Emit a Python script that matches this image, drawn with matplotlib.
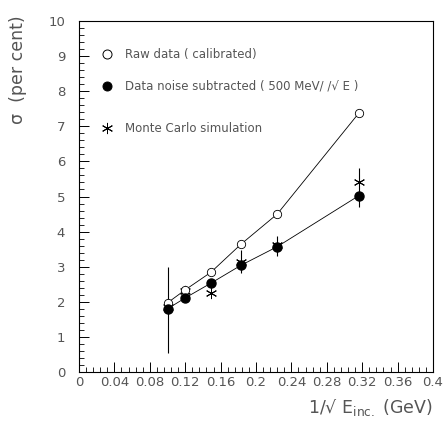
import matplotlib
matplotlib.use("Agg")
import matplotlib.pyplot as plt
from matplotlib.ticker import MultipleLocator

# 1/sqrt(E) for E = 100, 70, 45, 30, 20, 10 GeV
inv_sqrt_e = [0.100, 0.120, 0.149, 0.183, 0.224, 0.316]
raw_sigma = [1.97, 2.34, 2.84, 3.64, 4.50, 7.37]
sub_sigma = [1.80, 2.11, 2.53, 3.04, 3.57, 5.02]
sub_err_lo = [1.25, 0.12, 0.12, 0.23, 0.27, 0.33]
sub_err_hi = [1.20, 0.12, 0.12, 0.43, 0.30, 0.78]
mc_sigma = [1.85, 2.30, 2.26, 3.14, 3.62, 5.42]
x_ticks = [0, 0.04, 0.08, 0.12, 0.16, 0.2, 0.24, 0.28, 0.32, 0.36, 0.4]
x_labels = ['0', '0.04', '0.08', '0.12', '0.16', '0.2', '0.24', '0.28', '0.32', '0.36', '0.4']

txt = "#555555"
plt.rcParams['font.family'] = ['DejaVu Sans']

fig = plt.figure(figsize=(4.45, 4.21), dpi=100)
ax = fig.add_axes([79/445, 49/421, 354/445, 351/421])

ax.plot(inv_sqrt_e, raw_sigma, color='black', lw=0.6, zorder=1)
ax.plot(inv_sqrt_e, sub_sigma, color='black', lw=0.6, zorder=1)
ax.errorbar(inv_sqrt_e, sub_sigma, yerr=[sub_err_lo, sub_err_hi], fmt='none',
            ecolor='black', elinewidth=0.8, capsize=0, zorder=2)
ax.plot(inv_sqrt_e, mc_sigma, ls='none', marker=(6, 2, 0), ms=8, mew=0.7,
        color='black', zorder=3)
ax.plot(inv_sqrt_e, raw_sigma, ls='none', marker='o', ms=6, mfc='white',
        mec='black', mew=0.6, zorder=4)
ax.plot(inv_sqrt_e, sub_sigma, ls='none', marker='o', ms=6.5, color='black', zorder=5)

ax.set_xlim(0, 0.4)
ax.set_ylim(0, 10)
ax.set_xticks(x_ticks)
ax.set_xticklabels(x_labels)
ax.xaxis.set_minor_locator(MultipleLocator(0.008))
ax.yaxis.set_major_locator(MultipleLocator(1))
ax.yaxis.set_minor_locator(MultipleLocator(0.2))
ax.tick_params(which='both', direction='in', top=False, right=False,
               colors='black', labelcolor=txt, labelsize=9.5)
ax.tick_params(which='major', length=7, width=0.7)
ax.tick_params(which='minor', length=3.5, width=0.6)
ax.tick_params(axis='x', pad=3)
ax.tick_params(axis='y', pad=10)
for s in ax.spines.values():
    s.set_linewidth(0.8)

# legend drawn by hand
leg_x, leg_tx = 0.08, 0.13
rows = [(0.905, 'o', 'white', 'Raw data ( calibrated)'),
        (0.815, 'o', 'black', 'Data noise subtracted ( 500 MeV/ /√ E )'),
        (0.695, (6, 2, 0), 'black', 'Monte Carlo simulation')]
for yy, m, fc, label in rows:
    ax.plot([leg_x], [yy], transform=ax.transAxes, marker=m, ls='none',
            ms=6.5 if m == 'o' else 8, mfc=fc, mec='black', mew=0.7, clip_on=False)
    ax.text(leg_tx, yy, label, transform=ax.transAxes, va='center', ha='left',
            fontsize=8.5, color=txt)

fig.text(18/445, 1 - 70/421, 'σ  (per cent)', rotation=90, ha='center', va='center',
         fontsize=12.5, color=txt)
fig.text(433/445, 1 - 408/421, '1/√ E$_{\\rm inc.}$ (GeV)', ha='right', va='center',
         fontsize=12.5, color=txt)

fig.savefig('out.png', dpi=100)
